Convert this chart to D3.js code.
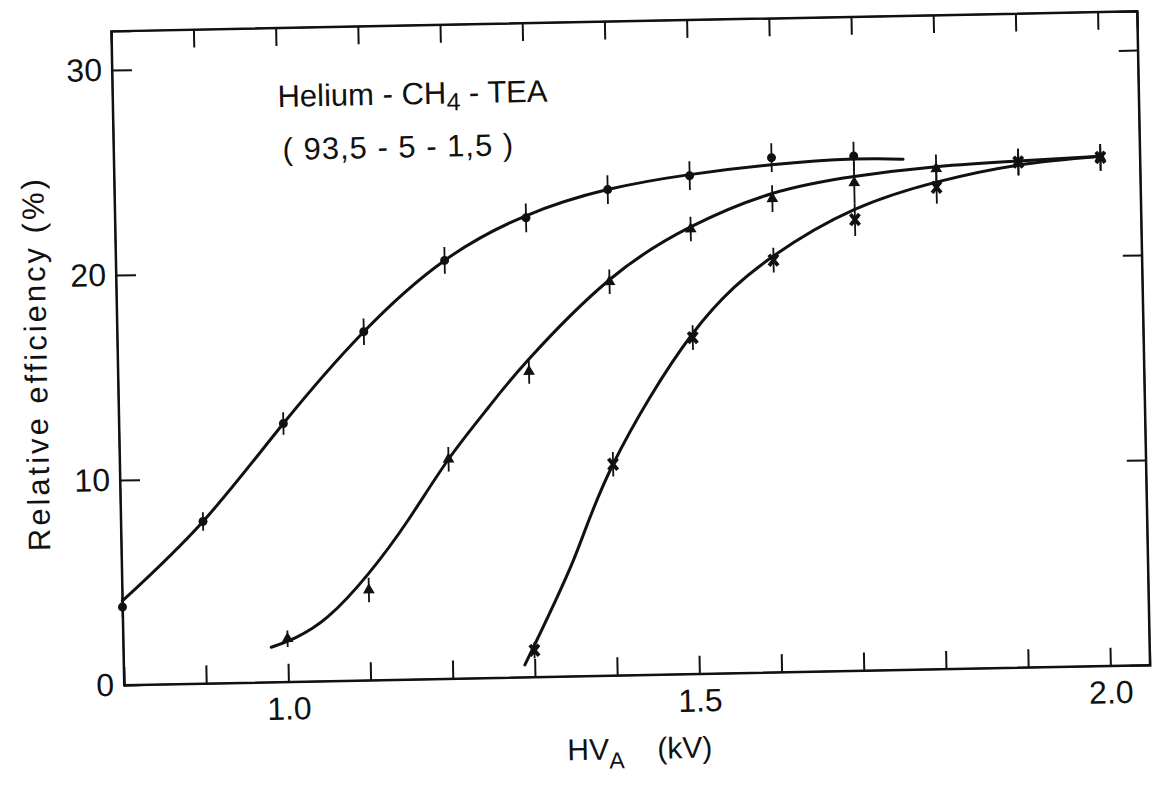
<!DOCTYPE html>
<html><head><meta charset="utf-8">
<script src="https://cdn.jsdelivr.net/npm/d3@7"></script>
<style>
body{margin:0;background:#fff}
svg{display:block}
text{font-family:"Liberation Sans",Arial,sans-serif;fill:#111}
</style>
</head><body>
<svg id="chart" width="1152" height="786"></svg>
<script>
// ---- data ----
const xTickValues = [0.8,0.9,1.0,1.1,1.2,1.3,1.4,1.5,1.6,1.7,1.8,1.9,2.0];
const xTickLabels = {"1":"1.0","1.5":"1.5","2":"2.0"};
const yTickValues = [0,10,20,30];

// circles
const circX   = [0.8,0.9,1.0,1.1,1.2,1.3,1.4,1.5,1.6,1.7];
const circY   = [3.8,7.9,12.6,17.0,20.4,22.4,23.7,24.3,25.1,25.1];
const circErr = [0.5,0.45,0.55,0.65,0.65,0.7,0.7,0.7,0.7,0.7];
const circCurveX = [0.8,0.9,1.0,1.1,1.2,1.3,1.4,1.5,1.6,1.7,1.76];
const circCurveY = [4.1,7.9,12.6,17.0,20.4,22.5,23.7,24.35,24.75,24.95,24.9];

// triangles
const triX   = [1.0,1.1,1.2,1.3,1.4,1.5,1.6,1.7,1.8,1.9,2.0];
const triY   = [2.1,4.4,10.7,14.9,19.2,21.7,23.1,23.8,24.4,24.65,24.8];
const triErr = [0.4,0.6,0.6,0.6,0.6,0.6,0.65,1.0,0.7,0.65,0.65];
const triCurveX = [0.98,1.01,1.05,1.1,1.15,1.2,1.25,1.3,1.4,1.5,1.6,1.7,1.8,1.9,2.0];
const triCurveY = [1.7,2.15,3.15,5.2,7.8,10.7,13.2,15.5,19.3,21.8,23.35,24.1,24.5,24.7,24.85];

// crosses
const crsX   = [1.3,1.4,1.5,1.6,1.7,1.8,1.9,2.0];
const crsY   = [1.3,10.3,16.4,20.1,22.0,23.5,24.65,24.8];
const crsErr = [0.4,0.6,0.6,0.6,0.8,0.8,0.65,0.65];
const crsCurveX = [1.288,1.35,1.4,1.5,1.6,1.7,1.8,1.9,2.0];
const crsCurveY = [0.6,5.7,10.3,16.6,20.3,22.5,23.75,24.5,24.85];

// ---- layout ----
const mLeft = 124, mTop = 31, plotW = 1026, plotH = 654;
const svg = d3.select("#chart");
const root = svg.append("g").attr("transform", `rotate(-1.12,${mLeft},${mTop+plotH})`);

const x = d3.scaleLinear().domain([0.8, 2.048]).range([mLeft, mLeft+plotW]);
const y = d3.scaleLinear().domain([0, 31.9]).range([mTop+plotH, mTop]);

// frame
root.append("rect").attr("x", mLeft).attr("y", mTop).attr("width", plotW).attr("height", plotH)
  .attr("fill","none").attr("stroke","#111").attr("stroke-width",2);

function styleAxis(g){
  g.select(".domain").attr("stroke","#111").attr("stroke-width",2);
  g.selectAll(".tick line").attr("stroke","#111").attr("stroke-width",2);
  g.selectAll(".tick text").style("font-size","32px").attr("fill","#111");
}

root.append("g").attr("transform",`translate(0,${mTop+plotH})`)
  .call(d3.axisBottom(x).tickValues(xTickValues).tickSize(-18).tickPadding(15)
    .tickFormat(d => xTickLabels[String(+d.toFixed(2))] || ""))
  .call(styleAxis);
root.append("g").attr("transform",`translate(0,${mTop})`)
  .call(d3.axisTop(x).tickValues(xTickValues).tickSize(-18).tickFormat(""))
  .call(styleAxis);
root.append("g").attr("transform",`translate(${mLeft},0)`)
  .call(d3.axisLeft(y).tickValues(yTickValues).tickSize(-20).tickPadding(10).tickFormat(d3.format("d")))
  .call(styleAxis);
root.append("g").attr("transform",`translate(${mLeft+plotW},0)`)
  .call(d3.axisRight(y).tickValues(yTickValues.filter(v=>v>0)).tickSize(-19).tickFormat(""))
  .call(styleAxis);

// curves
const line = d3.line().x(d=>x(d[0])).y(d=>y(d[1])).curve(d3.curveNatural);
[[circCurveX,circCurveY],[triCurveX,triCurveY],[crsCurveX,crsCurveY]].forEach(([xs,ys])=>{
  root.append("path").datum(xs.map((v,i)=>[v,ys[i]])).attr("d",line)
    .attr("fill","none").attr("stroke","#111").attr("stroke-width",3).attr("stroke-linecap","round");
});

// error bars + markers
function series(xs, ys, es, kind){
  const data = xs.map((v,i)=>({x:v,y:ys[i],e:es[i]}));
  const g = root.append("g");
  g.selectAll("line.err").data(data).enter().append("line")
    .attr("x1",d=>x(d.x)).attr("x2",d=>x(d.x))
    .attr("y1",d=>y(d.y-d.e)).attr("y2",d=>y(d.y+d.e))
    .attr("stroke","#111").attr("stroke-width",1.8);
  if(kind==="circle"){
    g.selectAll("circle").data(data).enter().append("circle")
      .attr("cx",d=>x(d.x)).attr("cy",d=>y(d.y)).attr("r",4.5).attr("fill","#111");
  } else if(kind==="triangle"){
    g.selectAll("path.m").data(data).enter().append("path")
      .attr("transform",d=>`translate(${x(d.x)},${y(d.y)})`)
      .attr("d",d3.symbol(d3.symbolTriangle,60)).attr("fill","#111");
  } else {
    g.selectAll("path.m").data(data).enter().append("path")
      .attr("transform",d=>`translate(${x(d.x)},${y(d.y)})`)
      .attr("d","M-4.5,-5.5L4.5,5.5M4.5,-5.5L-4.5,5.5")
      .attr("stroke","#111").attr("stroke-width",3.8).attr("fill","none");
  }
}
series(circX,circY,circErr,"circle");
series(triX,triY,triErr,"triangle");
series(crsX,crsY,crsErr,"cross");

// titles
const t1 = root.append("text").attr("x",289).attr("y",110).style("font-size","31px");
t1.append("tspan").text("Helium - CH");
t1.append("tspan").attr("dy",7).style("font-size","25px").text("4");
t1.append("tspan").attr("dy",-7).text(" - TEA");
root.append("text").attr("x",293).attr("y",163).style("font-size","31px")
  .style("letter-spacing","1px").text("( 93,5 - 5 - 1,5 )");

// axis titles
const xl = root.append("text").attr("x",566).attr("y",769).style("font-size","30px");
xl.append("tspan").text("HV");
xl.append("tspan").attr("dy",9).style("font-size","23px").text("A");
xl.append("tspan").attr("x",656).attr("dy",-9).text("(kV)");

root.append("text").attr("transform","translate(53,362) rotate(-90)")
  .attr("text-anchor","middle").style("font-size","31px").style("letter-spacing","3px")
  .text("Relative efficiency (%)");
</script>
</body></html>
